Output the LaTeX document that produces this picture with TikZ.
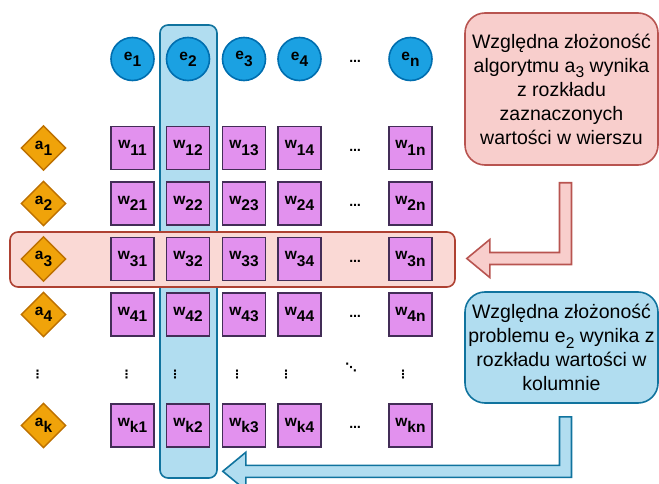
\documentclass[tikz,border=0pt]{standalone}
\usepackage{fontspec}
\setmainfont{Liberation Sans}
\newfontfamily\dotfont{DejaVu Sans}
\usetikzlibrary{
  shapes.geometric,
  positioning,
  calc
}
\definecolor{weightFill}{rgb}{0.886,0.569,0.933}
\definecolor{weightLine}{rgb}{0.263,0.176,0.341}
\definecolor{probFill}{rgb}{0.106,0.631,0.886}
\definecolor{probLine}{rgb}{0.0,0.431,0.686}
\definecolor{algoFill}{rgb}{0.941,0.639,0.039}
\definecolor{algoLine}{rgb}{0.741,0.439,0.0}
\definecolor{skyFill}{rgb}{0.694,0.867,0.941}
\definecolor{skyLine}{rgb}{0.063,0.451,0.620}
\definecolor{roseFill}{rgb}{0.980,0.851,0.835}
\definecolor{roseLine}{rgb}{0.682,0.255,0.196}
\definecolor{noteFill}{rgb}{0.973,0.808,0.800}
\definecolor{noteLine}{rgb}{0.722,0.329,0.314}
% index set a bit below the letter, as in the cells
\newcommand{\low}[1]{\raisebox{-.4em}{#1}}
\newcommand{\smallLow}[1]{\raisebox{-.3em}{\scalebox{.8}{#1}}}
% bent block arrow: down from #2, then left to the tip #3
\newcommand{\bendArrow}[3]{%
  \draw[#1] ($(#2)+(-6,0)$) -- ($(#2 |- #3)+(-6,-6)$)
    -- ($(#3)+(23,-6)$) -- ($(#3)+(23,-19)$) -- (#3)
    -- ($(#3)+(23,19)$) -- ($(#3)+(23,6)$)
    -- ($(#2 |- #3)+(6,6)$) -- ($(#2)+(6,0)$) -- cycle;}
\tikzset{
  weight/.style={
    rectangle,
    draw=weightLine,
    fill=weightFill,
    line width=1.6pt,
    minimum size=43pt,
    inner sep=0pt,
    font=\bfseries\fontsize{15.5}{15.5}\selectfont
  }
}
\tikzset{
  problem/.style={
    circle,
    draw=probLine,
    fill=probFill,
    line width=1.6pt,
    minimum size=43pt,
    inner sep=0pt,
    font=\bfseries\fontsize{15.5}{15.5}\selectfont
  }
}
\tikzset{
  algo/.style={
    diamond,
    draw=algoLine,
    fill=algoFill,
    line width=1.4pt,
    minimum width=45pt,
    minimum height=45pt,
    inner sep=0pt,
    font=\bfseries\fontsize{15.5}{15.5}\selectfont
  }
}
\tikzset{
  band/.style={
    rectangle,
    rounded corners=8pt,
    line width=1.6pt,
    inner sep=0pt
  },
  colBand/.style={band, draw=skyLine, fill=skyFill,
    minimum width=57pt, minimum height=453pt},
  rowBand/.style={band, draw=roseLine, fill=roseFill,
    minimum width=445pt, minimum height=55pt},
  note/.style={
    rectangle,
    rounded corners=20pt,
    line width=1.6pt,
    minimum width=193pt,
    inner sep=0pt,
    align=center,
    font=\fontsize{19.5}{24}\selectfont
  },
  dotsText/.style={font=\dotfont\bfseries\fontsize{11.5}{11.5}\selectfont,
    inner sep=0pt},
  blockArrow/.style={line width=1.6pt, line join=miter}
}

\begin{document}
\begin{tikzpicture}[x=1pt, y=-1pt]
  \useasboundingbox (0,0) rectangle (659,484);

  % highlighted column e2 and row a3
  \node[colBand] (band2) at (188.5,251.5) {};
  \node[rowBand] (band3) at (232.5,259.5) {};

  % problems
  \foreach \j/\x in {1/132.5, 2/188, 3/244, 4/299.5}
    \node[problem] (e\j) at (\x,59) {e\low{\j}};
  \node[problem] (en) at (410.5,59) {e\low{n}};
  \node[dotsText] (edots) at (355,61) {…};

  % algorithms and their weights
  \foreach \i/\y in {1/148, 2/203.5, 3/259, 4/314.5, k/425.5}{
    \node[algo] (a\i) at (43.5,\y) {a\low{\i}};
    \foreach \j/\x in {1/132.5, 2/188, 3/244, 4/299.5}
      \node[weight] (w\i-\j) at (\x,\y) {w\low{\i\j}};
    \node[dotsText] (wdots\i) at (355,\y+2) {…};
    \node[weight] (w\i-n) at (410.5,\y) {w\low{\i n}};
  }

  % skipped rows
  \foreach \x [count=\c] in {37.7, 126.7, 175, 237, 286, 403}
    \node[dotsText] (vd\c) at (\x,375) {⋮};
  \node[dotsText] (dd) at (351,368) {⋱};

  % notes
  \node[note, draw=noteLine, fill=noteFill, minimum height=152pt]
    (noteRow) at (561.5,89) {Względna złożoność\\algorytmu a\smallLow{3} wynika\\
    z rozkładu\\zaznaczonych\\wartości w wierszu};
  \node[note, draw=skyLine, fill=skyFill, minimum height=111pt]
    (noteCol) at (561.5,347.5) {Względna złożoność\\problemu e\smallLow{2} wynika z\\
    rozkładu wartości w\\kolumnie};

  \coordinate (rowStart) at ($(noteRow.south)+(4,17)$);
  \coordinate (rowTip) at ($(band3.east)+(11,-1)$);
  \coordinate (colStart) at ($(noteCol.south)+(4,13)$);
  \coordinate (colTip) at ($(band2.south east)+(5,-7.5)$);

  \bendArrow{blockArrow, draw=noteLine, fill=noteFill}{rowStart}{rowTip}
  \bendArrow{blockArrow, draw=skyLine, fill=skyFill}{colStart}{colTip}
\end{tikzpicture}
\end{document}
